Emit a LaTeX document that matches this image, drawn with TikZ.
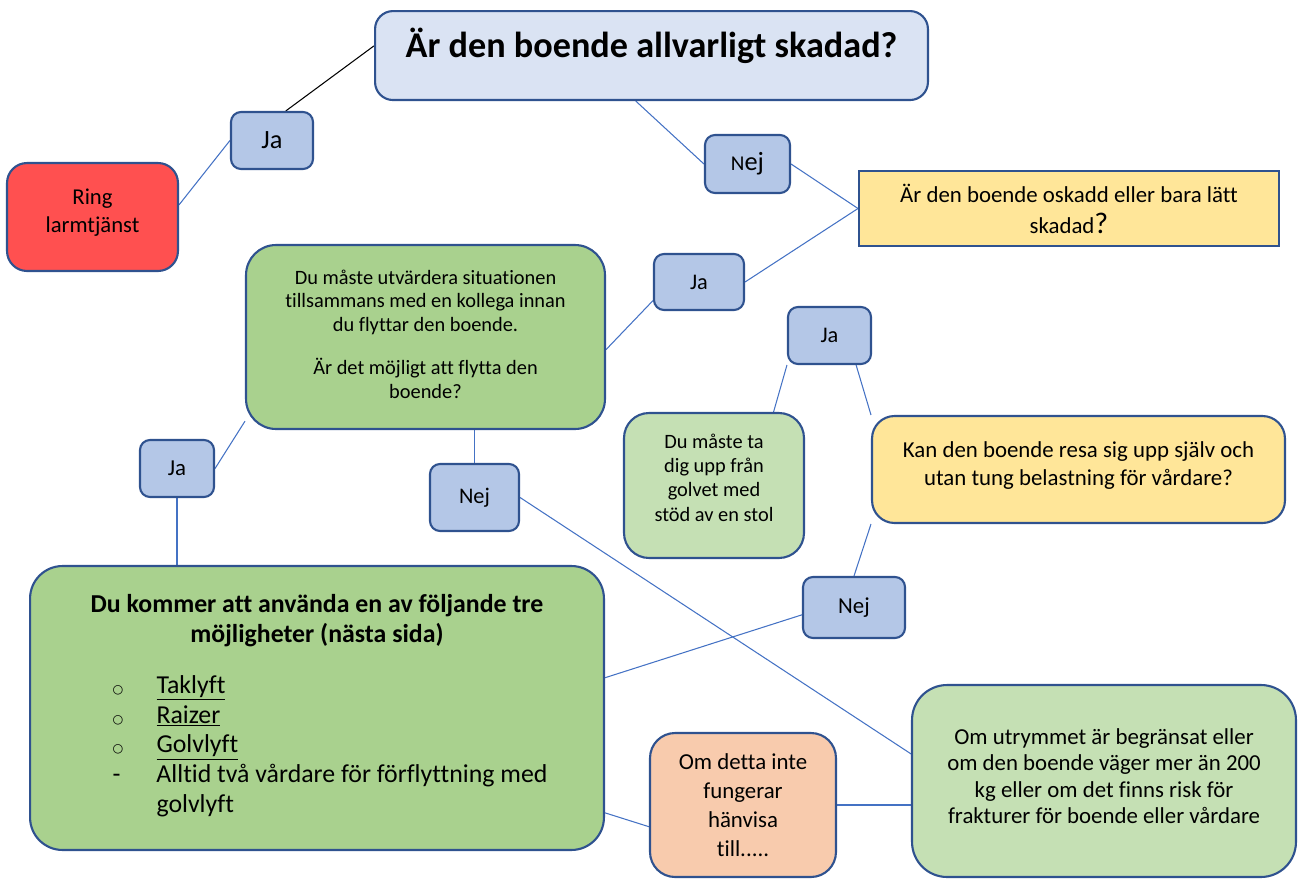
\documentclass[tikz,border=0pt]{standalone}
\usepackage{fontspec}
\setmainfont{Carlito}[Ligatures=NoCommon]
\newfontfamily\circfont{DejaVu Sans}
\usepackage{xcolor}
\usetikzlibrary{positioning,backgrounds}

\definecolor{edgeblue}{RGB}{47,82,143}
\definecolor{linkblue}{RGB}{68,114,196}
\definecolor{titlefill}{RGB}{218,227,243}
\definecolor{answerfill}{RGB}{180,199,231}
\definecolor{alarmred}{RGB}{255,80,80}
\definecolor{askyellow}{RGB}{255,230,153}
\definecolor{darkgreen}{RGB}{169,209,142}
\definecolor{lightgreen}{RGB}{197,224,180}
\definecolor{peach}{RGB}{248,203,173}

\newcommand{\fsz}[2]{\fontsize{#1}{#2}\selectfont}
\newcommand{\ringbullet}{{\circfont\fsz{7}{7}○}}

\begin{document}
\begin{tikzpicture}[x=0.02cm,y=-0.02cm,
  card/.style={draw=edgeblue,line width=1.2pt,align=center,inner sep=0pt},
  answer/.style={card,fill=answerfill,rounded corners=0.2cm},
  link/.style={draw=linkblue,line width=0.6pt}]
\useasboundingbox (0,0) rectangle (1298,879);
% Question boxes
\node[card,fill=titlefill,rounded corners=0.36cm,anchor=north,minimum width=11.06cm,
  text height=0.93cm,text depth=0.85cm,font=\bfseries\fsz{20.6}{24}] (hurt) at (651.5,10)
  {Är den boende allvarligt skadad?};
\node[card,fill=alarmred,rounded corners=0.4cm,minimum width=3.42cm,minimum height=2.16cm,
  font=\fsz{12.9}{15.5}] (ring) at (92.5,217) {Ring\\larmtjänst\\[-0.29cm]};
\node[card,fill=askyellow,minimum width=8.4cm,minimum height=1.5cm,font=\fsz{13}{17.6}]
  (minor) at (1069,208.5) {Är den boende oskadd eller bara lätt\\skadad{\fsz{17}{17}?}};
\node[card,fill=darkgreen,rounded corners=0.6cm,minimum width=7.18cm,minimum height=3.68cm,
  font=\fsz{11.6}{13.3}] (assess) at (425.5,337)
  {Du måste utvärdera situationen\\tillsammans med en kollega innan\\du flyttar den boende.\\[11.4pt]
   Är det möjligt att flytta den\\boende?\\[-0.35cm]};
\node[card,fill=lightgreen,rounded corners=0.5cm,minimum width=3.6cm,minimum height=2.9cm,
  font=\fsz{11.6}{13.9}] (chair) at (714,485.5) {Du måste ta\\dig upp från\\golvet med\\stöd av en stol\\[-0.17cm]};
\node[card,fill=askyellow,rounded corners=0.45cm,minimum width=8.26cm,minimum height=2.14cm,
  font=\fsz{13}{15.9}] (rise) at (1078.5,469.5)
  {Kan den boende resa sig upp själv och\\utan tung belastning för vårdare?\\[-0.32cm]};
\node[card,fill=darkgreen,rounded corners=0.65cm,minimum width=11.48cm,minimum height=5.68cm,
  font=\fsz{14.7}{17}] (lift) at (317,708)
  {{\bfseries Du kommer att använda en av följande tre}\\
   {\bfseries möjligheter (nästa sida)}\\[0.42cm]
   \hspace*{0.52cm}\begin{tabular}[t]{@{}p{0.88cm}@{}l@{}}
   \ringbullet & \underline{Taklyft}\\
   \ringbullet & \underline{Raizer}\\
   \ringbullet & \underline{Golvlyft}\\
   - & Alltid två vårdare för förflyttning med\\
     & golvlyft
   \end{tabular}};
\node[card,fill=peach,rounded corners=0.5cm,minimum width=3.72cm,minimum height=2.88cm,
  font=\fsz{13}{16.5}] (refer) at (743,805) {Om detta inte\\fungerar\\hänvisa\\till.....};
\node[card,fill=lightgreen,rounded corners=0.7cm,minimum width=7.68cm,minimum height=3.84cm,
  font=\fsz{13}{15.1}] (space) at (1104,781)
  {Om utrymmet är begränsat eller\\om den boende väger mer än 200\\kg eller om det finns risk för\\frakturer för boende eller vårdare\\[-0.33cm]};
% Answers
\node[answer,minimum width=1.64cm,minimum height=1.14cm,font=\fsz{15}{18}] (ja1) at (272,140.5) {Ja};
\node[answer,minimum width=1.7cm,minimum height=1.16cm,font=\fsz{15}{18}] (nej1) at (747.5,164) {{\fsz{12}{18}N}ej};
\node[answer,minimum width=1.8cm,minimum height=1.12cm,font=\fsz{12.7}{15}] (ja2) at (699,282) {Ja};
\node[answer,minimum width=1.66cm,minimum height=1.14cm,font=\fsz{12.7}{15}] (ja3) at (829.5,335.5) {Ja};
\node[answer,minimum width=1.48cm,minimum height=1.14cm,font=\fsz{13}{15}] (ja4) at (177,468.5) {Ja};
\node[answer,minimum width=1.78cm,minimum height=1.34cm,font=\fsz{12.7}{15}] (nej2) at (474.5,497.5) {Nej};
\node[answer,minimum width=2.04cm,minimum height=1.22cm,font=\fsz{13}{15}] (nej3) at (854,607.5) {Nej};
% Lines
\begin{scope}[on background layer]
\draw[line width=0.6pt] (ja1.65) -- (hurt.178);
\draw[link] (ja1.west) -- (ring.8);
\draw[link] (hurt.251) -- (nej1.west);
\draw[link] (nej1.east) -- (minor.west);
\draw[link] (ja2.east) -- (minor.west);
\draw[link] (ja2.202) -- (assess.356);
\draw[link] (assess.205) -- (ja4.east);
\draw[link] (ja4.south) -- (ja4.south |- lift.north);
\draw[link] (nej2.north) -- (nej2.north |- assess.south);
\draw[link] (nej2.east) -- (space.172);
\draw[link] (ja3.south west) -- (chair.51);
\draw[link] (ja3.312) -- (rise.north west);
\draw[link] (rise.south west) -- (nej3.north);
\draw[link] (nej3.188) -- (lift.6);
\draw[link] (lift.340) -- (refer.193);
\draw[link] (refer.east) -- (refer.east -| space.west);
\end{scope}
\end{tikzpicture}
\end{document}
